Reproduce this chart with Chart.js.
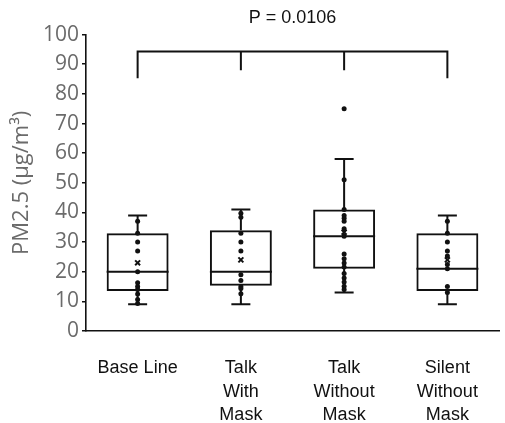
<!DOCTYPE html>
<html>
<head>
<meta charset="utf-8">
<script src="https://cdn.jsdelivr.net/npm/chart.js@4"></script>
<style>
  html, body { margin: 0; padding: 0; background: #fff; }
  #wrap { width: 505px; height: 423px; }
</style>
</head>
<body>
<div id="wrap"><canvas id="chart"></canvas></div>
<script>
// Categories (multi-line tick labels)
const categories = [
    ['Base Line'],
    ['Talk', 'With', 'Mask'],
    ['Talk', 'Without', 'Mask'],
    ['Silent', 'Without', 'Mask']
];

// Box statistics
const whiskerLow = [9, 9, 13, 9];
const q1 = [13.5, 15.3, 21, 13.5];
const median = [20, 20, 32, 21];
const q3 = [33, 34, 41, 33];
const whiskerHigh = [39, 41, 58, 39];
const means = [23, 24, 33.3, 24];

// Individual measurements per group
const baseLine = [37, 33, 30, 27, 20, 16.3, 15, 14, 12.5, 10.6, 9.3];
const talkWithMask = [39.7, 38.4, 33, 30, 27, 19, 17, 15, 14.3, 12.6];
const talkWithoutMask = [75, 51, 41, 39, 38, 37, 34.5, 32, 26, 24.4, 22.9, 21.6, 19.4, 17.9, 16.5, 15.1, 14];
const silentWithoutMask = [37, 33, 30, 27, 25.3, 22.4, 21, 15, 13];

// Significance bracket (y values) and label
const bracketTop = 94.3;
const bracketOuterEnd = 85.3;
const bracketInnerEnd = 88;
const pLabel = 'P = 0.0106';

const groups = [baseLine, talkWithMask, talkWithoutMask, silentWithoutMask];

const pointData = [];
groups.forEach((vals, i) => {
    vals.forEach(v => pointData.push({ x: i, y: v }));
});
const meanData = means.map((m, i) => ({ x: i, y: m }));

/**
 * Draws whiskers, caps, medians and the bracket from the scales
 */
const boxPlotExtras = {
    id: 'boxPlotExtras',
    beforeDatasetsDraw(chart) {
        const { ctx, scales: { x, y } } = chart;
        const boxMeta = chart.getDatasetMeta(0);
        ctx.save();
        ctx.strokeStyle = '#111';
        ctx.lineWidth = 2;
        ctx.lineCap = 'butt';
        categories.forEach((c, i) => {
            const bar = boxMeta.data[i];
            const cx = x.getPixelForValue(i);
            const half = bar.width / 2;
            const capHalf = 9.5;
            // median
            ctx.beginPath();
            ctx.moveTo(cx - half, y.getPixelForValue(median[i]));
            ctx.lineTo(cx + half, y.getPixelForValue(median[i]));
            ctx.stroke();
            // whiskers
            ctx.beginPath();
            ctx.moveTo(cx, y.getPixelForValue(q3[i]));
            ctx.lineTo(cx, y.getPixelForValue(whiskerHigh[i]));
            ctx.moveTo(cx, y.getPixelForValue(q1[i]));
            ctx.lineTo(cx, y.getPixelForValue(whiskerLow[i]));
            // caps
            ctx.moveTo(cx - capHalf, y.getPixelForValue(whiskerHigh[i]));
            ctx.lineTo(cx + capHalf, y.getPixelForValue(whiskerHigh[i]));
            ctx.moveTo(cx - capHalf, y.getPixelForValue(whiskerLow[i]));
            ctx.lineTo(cx + capHalf, y.getPixelForValue(whiskerLow[i]));
            ctx.stroke();
        });

        // bracket
        const last = categories.length - 1;
        const top = y.getPixelForValue(bracketTop);
        ctx.lineWidth = 2;
        ctx.beginPath();
        ctx.moveTo(x.getPixelForValue(0), y.getPixelForValue(bracketOuterEnd));
        ctx.lineTo(x.getPixelForValue(0), top);
        ctx.lineTo(x.getPixelForValue(last), top);
        ctx.lineTo(x.getPixelForValue(last), y.getPixelForValue(bracketOuterEnd));
        for (let i = 1; i < last; i++) {
            ctx.moveTo(x.getPixelForValue(i), top);
            ctx.lineTo(x.getPixelForValue(i), y.getPixelForValue(bracketInnerEnd));
        }
        ctx.stroke();
        ctx.restore();
    }
};

const ctx = document.getElementById('chart').getContext('2d');
new Chart(ctx, {
    type: 'bar',
    data: {
        labels: categories,
        datasets: [
            {
                type: 'bar',
                label: 'IQR',
                data: q1.map((lo, i) => [lo, q3[i]]),
                backgroundColor: 'rgba(255,255,255,0)',
                borderColor: '#111',
                borderWidth: 2,
                borderSkipped: false,
                grouped: false,
                barPercentage: 0.6,
                categoryPercentage: 1,
                order: 3
            },
            {
                type: 'scatter',
                label: 'Values',
                data: pointData,
                xAxisID: 'xPts',
                pointRadius: 2.5,
                pointBackgroundColor: '#111',
                pointBorderColor: '#111',
                pointBorderWidth: 0,
                showLine: false,
                order: 2
            },
            {
                type: 'scatter',
                label: 'Mean',
                data: meanData,
                xAxisID: 'xPts',
                pointStyle: 'crossRot',
                pointRadius: 3.5,
                pointBorderColor: '#111',
                pointBorderWidth: 2,
                showLine: false,
                order: 1
            }
        ]
    },
    options: {
        responsive: true,
        maintainAspectRatio: false,
        animation: false,
        layout: { padding: { left: 0, right: -4, top: 0, bottom: 0 } },
        scales: {
            x: {
                type: 'category',
                offset: true,
                grid: {
                    display: true,
                    drawOnChartArea: false,
                    drawTicks: false
                },
                border: { color: '#111', width: 1.6 },
                ticks: {
                    color: '#111',
                    maxRotation: 0,
                    autoSkip: false,
                    padding: 26,
                    font: { family: 'Liberation Sans', size: 18, lineHeight: 1.28 }
                },
                afterFit(scale) { scale.height = 92; }
            },
            xPts: {
                type: 'linear',
                axis: 'x',
                min: -0.5,
                max: categories.length - 0.5,
                offset: false,
                grid: { offset: false },
                display: false
            },
            y: {
                min: 0,
                max: 100,
                ticks: {
                    stepSize: 10,
                    color: '#6b6b6b',
                    padding: 3,
                    font: { family: 'Open Sans', size: 21 }
                },
                grid: {
                    drawOnChartArea: false,
                    drawTicks: true,
                    tickLength: 4,
                    color: '#111',
                    lineWidth: 1.5
                },
                border: { color: '#111', width: 1.6 },
                title: {
                    display: true,
                    text: 'PM2.5 (μg/m³)',
                    color: '#6b6b6b',
                    font: { family: 'Open Sans', size: 22 },
                    padding: { top: 9, bottom: 4 }
                },
                afterFit(scale) { scale.width = 86; }
            }
        },
        plugins: {
            legend: { display: false },
            tooltip: { enabled: false },
            title: {
                display: true,
                text: pLabel,
                fullSize: false,
                color: '#111',
                font: { family: 'Liberation Sans', size: 18, weight: 'normal' },
                padding: { top: 7, bottom: 6 }
            }
        }
    },
    plugins: [boxPlotExtras]
});
</script>
</body>
</html>
